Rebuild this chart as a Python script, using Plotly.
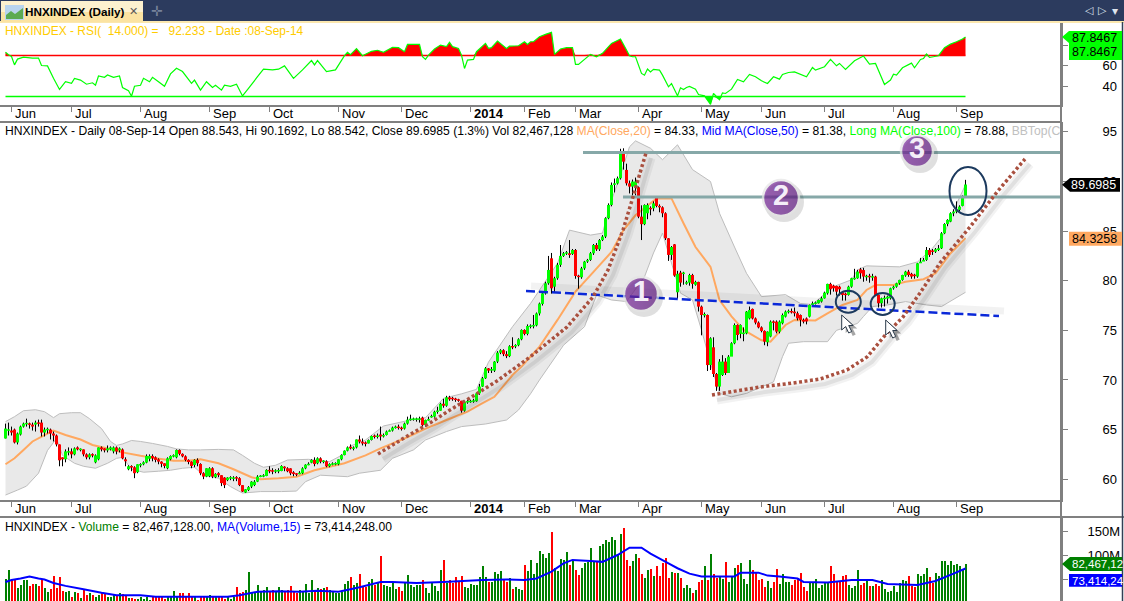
import plotly.graph_objects as go

FONT = "Liberation Sans"
W, H = 1124, 601
AXIS_X = 1061
GRID = "#808080"

tick_idx = [2, 22, 45, 68, 88, 111, 132, 155, 173, 190, 211, 232, 252, 273, 296, 317]
tick_labels = ["Jun", "Jul", "Aug", "Sep", "Oct", "Nov", "Dec", "<b>2014</b>", "Feb", "Mar", "Apr", "May", "Jun", "Jul", "Aug", "Sep"]

opens = [
    64.1,64.9,64.9,65.0,63.7,64.5,65.3,65.6,65.6,65.5,
    65.5,65.7,65.7,64.7,65.0,65.0,64.6,64.4,63.5,62.2,
    62.0,62.7,62.8,62.5,63.2,63.0,63.0,62.5,62.2,62.5,
    61.7,62.0,63.2,63.1,62.9,63.0,62.8,63.2,62.9,63.0,
    62.0,61.0,61.3,61.2,60.7,61.4,61.5,61.67,62.05,62.34,
    62.2,62.0,61.77,61.6,61.1,62.0,62.3,62.2,62.94,62.55,
    62.3,61.94,61.77,61.43,61.94,61.53,60.6,60.26,60.3,61.1,
    60.2,60.6,60.4,60.16,59.9,60.1,60.1,60.16,60.1,59.4,
    58.65,58.9,59.25,59.4,59.75,60.26,60.3,60.32,60.93,60.85,
    60.8,60.85,60.82,61.26,61.1,61.09,60.69,60.59,60.5,60.59,
    61.09,61.46,61.66,61.93,61.6,62.1,61.8,61.8,61.3,61.5,
    61.5,61.5,62.0,62.43,62.87,63.27,63.1,63.2,64.0,63.78,
    63.65,63.6,63.95,64.35,64.3,64.5,64.3,64.45,64.8,64.9,
    65.2,65.3,65.15,65.1,65.6,66.0,66.05,66.05,66.05,66.2,
    65.45,65.96,66.3,66.3,66.8,66.9,67.6,67.4,68.25,68.15,
    68.1,68.05,67.9,66.9,67.8,67.8,67.85,67.85,68.65,69.33,
    70.17,71.17,70.94,70.94,71.85,72.75,73.0,72.6,72.4,73.4,
    73.4,73.5,74.1,75.04,74.64,75.4,75.44,75.5,76.7,77.66,
    78.73,79.74,82.26,79.4,80.25,81.6,82.5,82.77,82.77,82.7,
    83.1,80.48,80.35,81.25,81.93,82.1,82.77,83.6,83.17,84.1,
    84.45,86.3,87.64,89.66,89.8,90.33,92.92,91.17,89.82,89.49,
    89.49,89.42,86.46,85.7,86.8,87.3,87.3,88.41,87.54,87.4,
    86.8,84.28,82.6,83.67,78.84,80.82,80.75,79.75,79.81,80.58,
    79.6,79.88,77.39,76.55,76.55,71.5,73.29,70.6,69.33,70.5,
    71.85,70.7,72.35,73.7,75.54,74.64,74.7,74.7,76.2,77.16,
    76.2,75.78,75.3,74.94,73.8,74.37,75.88,75.88,74.87,75.71,
    76.38,76.89,76.9,76.89,76.72,76.55,76.05,76.2,76.38,77.56,
    77.73,77.73,77.9,78.23,78.73,79.68,79.51,79.47,79.4,78.84,
    78.7,78.57,79.4,80.2,80.25,81.15,81.08,80.4,80.45,80.35,
    80.42,78.57,77.73,78.2,78.2,78.23,79.24,79.4,79.74,80.08,
    80.52,80.92,80.7,80.58,80.42,81.76,81.93,82.1,83.1,83.03,
    82.93,83.1,83.27,84.78,85.72,85.96,86.8,86.97,87.14,87.54,88.543,
]
closes = [
    65.1,65.0,64.7,63.7,64.6,65.3,65.6,65.6,65.5,65.3,
    65.7,65.6,64.7,65.0,65.0,64.6,64.4,63.5,61.9,62.0,
    62.8,62.8,62.5,63.1,63.0,63.0,62.5,62.2,62.5,62.4,
    62.4,63.2,63.0,62.9,63.1,63.2,63.2,62.8,63.1,62.1,
    61.8,61.3,61.2,60.6,61.5,61.5,61.7,62.34,62.34,62.1,
    61.94,61.77,61.55,61.33,62.1,62.34,62.4,62.94,62.55,62.3,
    61.94,61.73,61.33,61.94,61.6,60.6,60.26,61.1,61.1,60.26,
    60.53,60.4,59.6,59.4,60.16,60.16,60.1,60.1,59.4,58.75,
    58.98,59.2,59.75,59.75,60.26,60.32,60.35,60.93,60.8,60.8,
    60.85,60.85,61.33,61.1,60.8,60.59,60.52,60.45,60.65,61.09,
    61.46,61.5,61.93,61.53,62.1,61.76,61.8,61.3,61.53,61.55,
    61.6,62.0,62.43,62.87,63.2,63.1,63.15,64.0,63.78,63.6,
    63.6,63.95,64.35,64.3,64.35,64.3,64.45,64.8,64.9,65.2,
    65.25,65.15,65.1,65.6,66.0,66.05,66.05,66.05,66.05,65.45,
    65.96,66.0,66.3,66.8,66.9,67.6,67.4,68.25,68.05,68.1,
    68.0,67.9,66.9,67.8,67.8,67.85,67.9,68.65,69.33,70.17,
    71.17,70.94,71.1,71.85,72.75,73.0,72.6,72.4,73.4,73.3,
    73.5,74.1,75.04,74.64,75.44,75.44,75.5,76.7,77.7,78.73,
    79.74,81.09,79.24,80.25,81.6,82.5,82.77,82.83,82.6,83.1,
    80.48,80.4,81.25,81.93,82.1,82.77,83.6,83.17,84.1,84.45,
    86.3,87.64,89.66,89.82,90.33,92.92,92.0,89.82,89.49,90.0,
    90.0,86.46,85.7,87.64,87.64,87.25,87.8,87.54,87.4,86.8,
    84.28,82.6,83.4,80.52,80.7,79.81,80.75,79.8,80.58,79.68,
    79.88,77.39,76.55,76.6,71.5,74.2,70.6,69.33,71.85,71.85,
    70.7,72.35,73.7,75.54,74.53,75.54,74.7,76.89,77.05,76.2,
    75.78,75.3,74.94,73.86,74.87,75.88,75.78,74.87,75.88,76.55,
    76.89,76.9,76.85,76.72,76.2,76.05,75.88,75.9,77.56,77.73,
    77.75,78.06,78.23,78.8,79.68,79.14,79.24,78.9,79.14,78.57,
    78.55,79.4,80.25,80.25,80.92,80.75,80.42,80.45,80.4,80.42,
    78.57,77.73,78.23,78.23,78.4,79.24,79.4,79.74,80.08,80.58,
    80.92,80.58,80.42,80.5,81.76,81.93,82.1,83.1,82.6,82.93,
    83.17,83.27,84.78,85.72,86.13,86.8,86.97,87.14,87.47,88.55,89.6985,
]
highs = [
    65.6,65.7,65.3,65.1,64.7,65.4,65.7,66.1,65.7,65.7,
    65.9,66.0,66.0,65.2,65.2,65.1,64.8,64.5,63.5,62.2,
    63.0,63.2,63.1,63.2,63.3,63.1,63.0,62.6,62.6,62.6,
    62.5,63.2,63.3,63.1,63.4,63.3,63.3,63.3,63.2,63.1,
    62.2,61.4,61.4,61.3,61.5,61.6,61.8,62.5,62.5,62.5,
    62.3,62.1,61.8,61.6,62.2,62.4,62.5,63.0,63.0,62.6,
    62.4,62.0,61.8,62.0,62.1,61.6,60.7,61.1,61.2,61.2,
    60.6,60.7,60.4,60.2,60.2,60.3,60.3,60.3,60.2,59.4,
    59.0,59.3,59.8,59.9,60.4,60.4,60.5,61.0,61.3,61.1,
    61.0,61.1,61.4,61.3,61.2,61.1,60.8,60.6,60.8,61.2,
    61.5,61.7,62.0,62.2,62.2,62.2,61.9,61.9,61.6,61.7,
    61.7,62.0,62.5,62.9,63.3,63.5,63.3,64.0,64.4,64.1,
    63.8,64.0,64.4,64.5,64.6,65.3,64.6,64.9,65.0,65.3,
    65.4,65.5,65.3,65.7,66.3,66.5,66.2,66.2,66.3,66.3,
    66.0,66.3,66.5,66.9,67.3,67.7,68.1,68.4,68.4,68.3,
    68.2,68.1,67.9,67.9,68.0,68.0,68.1,68.7,69.6,70.3,
    71.3,71.2,71.3,71.9,72.9,73.1,73.1,72.9,73.5,74.3,
    73.6,74.2,75.1,75.1,75.6,75.6,76.55,76.8,77.8,78.9,
    79.9,82.5,82.8,80.4,81.8,83.6,82.9,83.0,84.1,83.2,
    83.2,80.6,81.4,82.0,82.2,82.9,83.7,83.8,84.2,84.6,
    86.4,87.8,89.9,90.3,90.5,93.3,93.35,91.8,90.1,90.2,
    90.4,89.5,87.6,87.7,87.8,87.5,88.0,88.5,87.7,87.5,
    86.9,84.3,83.5,83.7,81.0,81.0,80.9,80.0,80.7,80.7,
    80.0,79.9,77.5,76.8,76.6,74.3,74.3,70.7,72.1,72.5,
    72.2,72.5,73.8,75.7,75.6,75.6,75.3,76.95,77.4,77.2,
    76.3,75.9,75.4,75.0,74.9,76.0,76.0,76.0,76.0,76.7,
    77.0,77.1,77.2,77.3,76.9,76.6,76.2,76.3,77.6,77.9,
    77.9,78.1,78.4,78.9,79.7,79.8,79.6,79.5,79.5,78.9,
    78.8,79.5,80.3,81.2,81.1,81.3,81.3,80.6,80.7,80.7,
    80.5,78.6,78.3,78.5,78.5,79.3,79.5,79.8,80.1,80.6,
    81.0,81.1,80.8,80.7,81.8,82.3,82.3,83.4,83.3,83.2,
    83.3,83.6,84.9,85.8,86.2,86.9,87.2,88.0,87.6,88.6,90.1692,
]
lows = [
    64.1,64.4,64.4,63.6,63.5,64.4,65.2,65.3,65.1,64.9,
    64.8,65.3,64.3,64.3,64.6,64.0,63.8,63.3,61.3,61.3,
    61.7,62.4,62.1,62.4,62.9,62.8,62.3,62.0,62.0,62.2,
    61.6,61.9,62.8,62.7,62.7,62.9,62.6,62.5,62.7,62.0,
    61.3,60.9,60.8,60.1,60.6,61.2,61.4,61.6,61.8,61.8,
    61.7,61.5,61.2,61.1,61.0,61.9,62.2,62.1,62.4,62.2,
    61.8,61.5,61.1,61.2,61.3,60.4,60.0,60.2,60.2,60.1,
    60.1,60.2,59.3,59.1,59.8,59.9,59.8,59.8,59.3,58.7,
    58.6,58.8,59.1,59.3,59.7,60.2,60.2,60.3,60.6,60.5,
    60.6,60.6,60.8,60.8,60.7,60.4,60.3,60.3,60.5,60.5,
    61.0,61.4,61.6,61.3,61.5,61.6,61.6,61.2,61.2,61.4,
    61.4,61.4,61.9,62.4,62.8,63.0,62.9,63.1,63.6,63.4,
    63.3,63.6,63.9,64.1,64.1,63.9,64.2,64.4,64.8,64.8,
    65.1,65.0,64.9,65.0,65.5,65.9,65.9,65.8,65.7,65.3,
    65.3,65.9,66.2,66.2,66.6,66.9,67.2,67.3,67.9,67.9,
    67.8,67.8,66.7,66.8,67.6,67.7,67.7,67.8,68.5,69.3,
    70.1,70.7,70.7,70.8,71.7,72.6,72.4,72.2,72.3,73.1,
    73.2,73.4,74.0,74.5,74.5,75.2,75.2,75.4,76.5,77.5,
    78.6,79.6,78.7,78.8,80.1,81.4,82.4,82.6,82.3,82.6,
    80.2,79.2,80.2,81.1,81.8,82.0,82.6,83.0,83.0,84.0,
    84.3,86.2,87.5,88.9,89.7,90.2,91.2,89.6,88.8,88.6,
    88.6,86.3,84.1,85.6,86.2,86.6,87.0,87.4,86.9,86.4,
    84.1,82.0,82.1,80.4,78.2,79.4,79.6,79.6,79.5,79.2,
    79.5,76.9,74.5,76.3,70.9,71.0,70.3,68.9,68.9,70.4,
    70.5,70.9,73.1,73.6,74.0,74.2,73.9,74.6,76.1,76.1,
    75.6,75.2,74.8,73.5,73.4,74.3,75.0,74.7,74.7,75.6,
    76.3,76.7,76.7,76.4,76.0,75.4,75.7,75.6,76.3,77.4,
    77.6,77.7,77.8,78.2,78.6,78.6,78.9,78.5,78.5,78.0,
    78.0,78.5,79.3,80.1,80.2,80.2,79.9,80.0,79.8,80.0,
    78.5,77.3,77.3,77.4,77.7,78.1,79.1,79.3,79.6,80.0,
    80.4,80.4,80.2,80.2,80.3,81.8,82.0,82.0,82.4,82.6,
    82.8,83.0,83.2,84.7,85.5,85.9,86.5,86.8,87.0,87.5,88.542,
]
volume_m = [
    53,70,53,50,33,40,50,51,38,42,
    42,38,53,33,26,31,58,33,57,27,
    26,27,16,26,24,14,29,19,24,19,
    16,19,25,23,16,16,21,19,24,21,
    19,14,14,12,12,16,12,16,10,16,
    16,16,16,12,16,16,27,16,23,23,
    16,23,16,16,10,16,16,16,19,17,
    16,16,16,12,16,12,16,36,24,26,
    29,67,26,24,40,26,29,36,28,29,
    26,36,29,26,29,38,26,24,29,28,
    42,24,50,28,33,31,33,35,29,26,
    24,24,26,41,48,57,40,43,63,36,
    36,46,53,40,46,99,40,38,35,46,
    31,36,28,44,60,40,35,40,40,50,
    34,24,46,38,28,70,91,43,50,43,
    57,46,58,36,33,42,40,40,57,78,
    57,46,46,67,63,68,52,46,55,31,
    36,31,29,80,69,91,63,84,110,103,
    94,106,148,74,69,92,91,108,80,89,
    70,60,74,85,87,116,87,87,119,123,
    131,128,138,131,104,144,156,91,78,89,
    104,94,63,55,70,72,59,78,59,84,
    94,55,67,65,65,55,33,40,33,23,
    30,45,50,78,51,104,63,55,58,53,
    86,46,57,74,80,84,53,42,91,70,
    67,50,52,35,48,33,46,72,42,62,
    46,46,40,50,53,65,35,27,43,46,
    53,33,40,44,46,78,63,48,46,58,
    60,40,33,38,70,40,43,52,38,38,
    41,38,51,31,26,27,38,26,43,50,
    48,58,38,36,62,58,63,75,57,44,
    65,59,89,89,80,89,80,83,78,71,82.467,
]
rsi_idx = [
    0,1,2,3,4,6,9,11,12,14,16,18,20,22,23,25,27,29,30,31,33,34,36,38,39,41,42,43,45,46,
    48,49,51,53,55,57,59,62,63,65,67,69,70,72,73,75,77,79,81,84,86,89,91,93,96,99,102,103,104,107,
    110,113,114,115,117,119,122,124,126,129,131,133,134,138,139,140,141,143,145,147,148,149,151,152,153,154,156,157,160,161,
    162,164,167,168,171,173,174,175,176,178,180,182,183,185,187,189,190,191,195,197,199,202,205,207,208,209,210,212,213,214,
    215,216,218,219,221,222,224,225,226,227,228,230,231,233,235,236,238,239,240,242,244,246,248,250,252,254,256,258,259,261,
    263,267,269,270,273,275,277,278,280,283,286,288,290,293,295,296,297,299,302,303,305,306,307,308,311,313,315,317,319,320,
]
rsi = [
    73,70.7,69,60.8,66.4,68.4,67.4,67.4,60.2,59.8,47.7,36.9,44.4,42.8,47.7,46,42,43.4,41,50,48.7,51,48.7,50,38.8,35.6,30.3,40,41,47.7,
    44.4,48.7,44.4,40,52,57.5,54.3,42.8,46,36.2,44.4,38.8,41,36.2,41,40,42,30.6,37.9,49.3,56.6,55.9,56.6,59.8,47.7,55.9,65,60.8,65,54.3,
    55.9,69.7,73,70.7,76.6,69.7,74,75,73,77.9,77.5,73.6,80.7,80.7,68.7,66.1,70.3,76.2,80,78.5,82.7,78.5,76.8,70.3,57.3,65.5,66.1,73.6,81.7,76.8,
    77.5,84,76.8,79,79.4,83.3,80.7,83.3,83.3,88.2,90.5,92.4,71,76.2,77.5,77.5,61.2,61.2,71,68.7,72,81.7,85.9,75.2,69.7,68.7,68.7,52.5,50.8,56.7,
    54,56.4,55.7,50.8,39.5,42.7,30.7,38.5,36.9,38.8,39.8,37.2,32,30.7,22.5,33,26.9,33.6,33,37.2,46.6,44.3,51.5,49.2,45.3,42.7,49.2,46.9,51.5,53.4,
    54,49.2,58.3,55.7,59,66.1,59.9,62.2,56.4,64.8,69.4,61.6,62.2,41.7,46,51.8,50.8,58,62.5,58,66.1,67,71.3,68,69.7,77.5,81,83.3,85.9,87.85,
]
bb_top_idx = [
    0,3,6,10,13,16,18,22,25,28,32,35,37,39,42,45,49,54,57,61,65,71,76,79,83,86,90,94,101,108,
    112,115,120,126,134,140,146,152,157,161,169,175,184,188,195,199,202,205,208,210,215,219,224,229,235,238,243,247,252,260,
    265,269,272,276,282,284,287,298,304,309,313,316,320,
]
bb_top = [
    65.8,66.3,66.9,67.0,66.8,66.2,66.6,66.7,66.7,66.1,65.1,63.8,63.4,63.55,63.9,63.8,63.6,63.3,63.05,62.95,62.95,63.0,62.95,62.4,61.6,61.2,61.4,61.93,62.0,61.76,
    62.4,63.34,63.95,65.36,65.9,66.2,68.15,68.6,69.05,71.8,75.37,77.7,81.76,85.1,84.6,84.8,88.1,90.66,93.5,94.1,93.35,92.2,93.7,91.2,90.0,86.8,83.4,80.75,78.4,78.6,
    77.7,77.6,78.4,79.4,80.1,81.1,81.5,81.4,81.9,83.27,84.78,87.1,89.66,
]
bb_bot_idx = [
    0,4,7,11,14,17,19,23,26,30,34,37,39,42,46,51,55,59,63,66,71,75,79,85,92,97,100,105,114,118,
    125,129,136,140,147,152,160,167,171,175,178,186,193,197,202,207,213,216,219,225,229,232,235,238,242,247,252,256,259,261,
    266,274,277,284,286,289,294,300,307,312,320,
]
bb_bot = [
    58.4,58.9,59.3,60.6,62.9,64.1,62.4,61.6,61.3,61.1,61.6,62.1,62.2,61.0,60.7,60.8,60.9,61.1,61.2,60.4,60.1,59.25,58.6,58.75,58.75,58.8,59.75,60.4,60.25,60.6,
    60.9,62.1,62.95,63.95,64.8,65.3,65.56,65.96,66.97,68.6,70.0,73.5,75.37,78.57,78.06,77.9,80.4,82.8,84.8,78.75,78.06,75.04,71.7,68.65,68.3,68.65,69.3,69.8,72.35,73.7,
    73.86,73.86,75.0,75.7,76.4,77.4,77.56,77.9,77.56,77.4,78.84,
]
ma20_idx = [
    0,3,6,9,13,16,20,25,29,34,39,45,50,56,61,65,71,76,82,85,91,97,103,113,120,125,133,140,147,154,
    158,163,169,172,178,184,190,196,202,206,210,217,222,226,230,235,238,242,246,252,255,260,263,270,274,279,284,287,290,296,
    300,306,310,315,320,
]
ma20 = [
    61.5,62.1,62.95,63.8,64.45,64.9,64.45,64.0,63.45,63.1,62.7,62.35,62.1,61.85,61.85,62.0,61.6,61.0,60.2,60.0,60.1,60.25,60.9,61.6,62.4,63.1,64.1,65.1,65.96,66.8,
    67.5,68.3,70.5,71.34,73.36,76.05,78.9,80.9,82.9,85.1,86.6,88.3,88.3,85.8,83.4,81.4,78.06,76.4,75.04,74.0,73.86,75.54,76.05,76.0,76.7,77.56,78.06,79.07,79.57,79.57,
    79.9,80.15,80.75,82.77,84.3,
]
vol_ma_idx = [
    0,2,5,8,11,13,16,20,26,32,37,45,50,56,65,74,78,84,91,98,104,111,115,118,125,129,137,146,159,167,
    173,177,182,186,189,195,199,204,208,212,215,221,224,228,232,243,245,251,254,258,264,266,274,282,289,294,304,310,316,320,
]
vol_ma = [
    46,50,53,57,53,51,44,38,31,24,19,19,16,16,16,16,19,26,27,26,28,26,31,35,46,46,44,46,50,51,
    50,53,67,84,91,89,87,101,116,116,104,84,74,63,57,57,65,65,59,57,53,46,45,50,50,42,40,48,63,73.4,
]
assert len(opens) == len(closes) == len(highs) == len(lows) == len(volume_m), (len(opens), len(closes), len(highs), len(lows), len(volume_m))
assert len(rsi_idx) == len(rsi) and len(bb_top_idx) == len(bb_top) and len(bb_bot_idx) == len(bb_bot)
assert len(ma20_idx) == len(ma20) and len(vol_ma_idx) == len(vol_ma)

n_bars = len(closes)
index = list(range(n_bars))


def segments(keys, starts, ends, min_gap=0.0):
    xs, ys = [], []
    for i, a, b in zip(keys, starts, ends):
        if abs(a - b) < min_gap:
            mid = (a + b) / 2
            a, b = mid - min_gap / 2, mid + min_gap / 2
        xs += [i, i, None]
        ys += [a, b, None]
    return xs, ys


def line_trace(x, y, color, width, axes=("x", "y"), dash=None, **kw):
    return go.Scatter(
        x=x, y=y, mode="lines", xaxis=axes[0], yaxis=axes[1],
        line=dict(color=color, width=width, dash=dash, simplify=False),
        hoverinfo="skip", showlegend=False, **kw,
    )


fig = go.Figure()

# rsi panel
rsi_up = [max(v, 70) for v in rsi]
rsi_dn = [min(v, 30) for v in rsi]
ends = [0, n_bars - 1]
fig.add_trace(line_trace(rsi_idx, [70] * len(rsi), "rgba(0,0,0,0)", 0, ("x2", "y2")))
fig.add_trace(line_trace(rsi_idx, rsi_up, "rgba(0,0,0,0)", 0, ("x2", "y2"), fill="tonexty", fillcolor="#ff0000"))
fig.add_trace(line_trace(rsi_idx, [30] * len(rsi), "rgba(0,0,0,0)", 0, ("x2", "y2")))
fig.add_trace(line_trace(rsi_idx, rsi_dn, "rgba(0,0,0,0)", 0, ("x2", "y2"), fill="tonexty", fillcolor="#00ff00"))
fig.add_trace(line_trace(ends, [70, 70], "#ff0000", 1.5, ("x2", "y2")))
fig.add_trace(line_trace(ends, [30, 30], "#00ff00", 1.5, ("x2", "y2")))
fig.add_trace(line_trace(rsi_idx, rsi, "#00ff00", 1.2, ("x2", "y2")))

# price panel
fig.add_trace(go.Scatter(
    x=bb_top_idx + bb_bot_idx[::-1], y=bb_top + bb_bot[::-1], mode="none",
    fill="toself", fillcolor="#e9e9e9", hoverinfo="skip", showlegend=False,
))
fig.add_trace(line_trace(bb_top_idx, bb_top, "#bdbdbd", 1))
fig.add_trace(line_trace(bb_bot_idx, bb_bot, "#bdbdbd", 1))
fig.add_trace(line_trace(ma20_idx, ma20, "#ffa860", 2))

wick_x, wick_y = segments(index, lows, highs)
fig.add_trace(line_trace(wick_x, wick_y, "#000000", 1))
up = [i for i in index if closes[i] >= opens[i]]
dn = [i for i in index if closes[i] < opens[i]]
up_x, up_y = segments(up, [opens[i] for i in up], [closes[i] for i in up], 0.15)
dn_x, dn_y = segments(dn, [opens[i] for i in dn], [closes[i] for i in dn], 0.15)
fig.add_trace(line_trace(up_x, up_y, "#00ff00", 3))
fig.add_trace(line_trace(dn_x, dn_y, "#ff0000", 3))

# volume panel
fig.add_trace(go.Bar(
    x=index, y=volume_m, width=0.67, xaxis="x3", yaxis="y3",
    marker=dict(color=["#008000" if closes[i] >= opens[i] else "#ff0000" for i in index], line=dict(width=0)),
    hoverinfo="skip", showlegend=False,
))
fig.add_trace(line_trace(vol_ma_idx, vol_ma, "#0000ff", 2, ("x3", "y3")))

# hand drawn markup, in picture pixels on an overlay axis
OV = ("x4", "y4")
trend_a = [(378, 454), (404, 438), (430, 423), (450, 410), (470, 398), (497, 381), (530, 357), (567, 327), (593, 297), (608, 270), (623, 230), (633, 197), (640, 173), (646, 153)]
trend_b = [(712, 395), (760, 387), (793, 383), (820, 379), (847, 370), (867, 357), (887, 333), (903, 317), (920, 293), (940, 263), (970, 227), (997, 192), (1025, 159)]
neck = [(526, 291), (999, 316)]
for path in (trend_a, trend_b):
    px = [p[0] + 5 for p in path]
    py = [p[1] + 5 for p in path]
    fig.add_trace(line_trace(px, py, "rgba(0,0,0,0.05)", 9, OV))
    fig.add_trace(line_trace(px, py, "rgba(0,0,0,0.07)", 4, OV))
fig.add_trace(line_trace([p[0] + 5 for p in neck], [p[1] - 5 for p in neck], "rgba(0,0,0,0.05)", 7, OV))
for x0, y0 in [(583, 152.5), (623, 197)]:
    fig.add_trace(line_trace([x0, AXIS_X], [y0, y0], "#86a8a8", 3, OV))
fig.add_trace(line_trace([p[0] for p in neck], [p[1] for p in neck], "#0a28d8", 2.5, OV, dash="9px,4px"))
for path in (trend_a, trend_b):
    fig.add_trace(line_trace([p[0] for p in path], [p[1] for p in path], "#a9503f", 3.5, OV, dash="3px,2.5px"))

badge_x = [641, 781, 917]
badge_y = [294, 198, 151]
badge_size = [34, 36, 32]
fig.add_trace(go.Scatter(
    x=[v + 3 for v in badge_x], y=[v + 4 for v in badge_y], mode="markers", xaxis="x4", yaxis="y4",
    marker=dict(size=[v + 4 for v in badge_size], color="rgba(0,0,0,0.18)", line=dict(width=0)),
    hoverinfo="skip", showlegend=False,
))
fig.add_trace(go.Scatter(
    x=badge_x, y=badge_y, mode="markers+text", xaxis="x4", yaxis="y4",
    text=["<b>1</b>", "<b>2</b>", "<b>3</b>"], textposition="middle center",
    textfont=dict(family=FONT, size=29, color="#f4eef8"),
    marker=dict(
        size=badge_size, color="#7a2a9c",
        gradient=dict(type="horizontal", color="#5f1a80"),
        line=dict(color="#e4e4e4", width=2.5),
    ),
    hoverinfo="skip", showlegend=False,
))


def ov_rect(x0, y0, x1, y1, fill):
    return dict(type="rect", xref="x4", yref="y4", x0=x0, y0=y0, x1=x1, y1=y1, fillcolor=fill, line=dict(width=0), layer="above")


def ov_line(x0, y0, x1, y1, color, width=1):
    return dict(type="line", xref="x4", yref="y4", x0=x0, y0=y0, x1=x1, y1=y1, line=dict(color=color, width=width), layer="above")


def ov_path(points, fill, line_color=None, width=0):
    d = "M " + " L ".join(f"{x} {y}" for x, y in points) + " Z"
    return dict(type="path", xref="x4", yref="y4", path=d, fillcolor=fill, line=dict(color=line_color or fill, width=width), layer="above")


def ellipse(cx, cy, rx, ry):
    return dict(type="circle", xref="x4", yref="y4", x0=cx - rx, x1=cx + rx, y0=cy - ry, y1=cy + ry,
                line=dict(color="#1c3a5e", width=2), layer="above")


def cursor(x, y):
    arrow = [(0, 0), (0, 15), (4, 11.5), (7, 18), (10, 16.5), (7, 10.5), (11.5, 10.5)]
    shadow = ov_path([(x + a + 4, y + b + 3) for a, b in arrow], "rgba(0,0,0,0.35)")
    body = ov_path([(x + a, y + b) for a, b in arrow], "#ffffff", "#2b3a4a", 1)
    return [shadow, body]


shapes = [
    ov_rect(0, 0, W, 21, "#2c3b5e"),
    ov_rect(0, 21, W, 23, "#fbe7ae"),
    ov_rect(1, 1, 143, 12, "#fdf1cf"),
    ov_rect(1, 12, 143, 22, "#fbe3a2"),
    ov_rect(5, 5, 24, 20, "#b9d4ee"),
    ov_path([(6, 19), (6, 15), (11, 11), (15, 14), (23, 8), (23, 19)], "#5cab52"),
    ov_line(AXIS_X, 23, AXIS_X, H, GRID, 2),
    ov_line(0, 122, AXIS_X, 122, GRID, 2),
    ov_line(0, 517, W, 517, GRID, 2),
    ov_line(1122.5, 22, 1122.5, H, "#333f55", 1.5),
    ellipse(968, 191, 18.5, 24),
    ellipse(848.3, 301.7, 12.5, 11),
    ellipse(882.7, 304, 12, 11),
    *cursor(841.7, 315),
    *cursor(885.7, 320),
    ov_path([(1062, 37), (1069, 31), (1122, 31), (1122, 60), (1069, 60), (1069, 43)], "#00ff00"),
    ov_path([(1062, 184.7), (1070, 178), (1120, 178), (1120, 191.7), (1070, 191.7)], "#000000"),
    ov_rect(1069, 231.7, 1122, 245.7, "#ffa860"),
    ov_path([(1062, 564), (1070, 557), (1122, 557), (1122, 571), (1070, 571)], "#008000"),
    ov_rect(1069, 574, 1122, 586.7, "#0000ff"),
]


def text(x, y, s, color="#000000", size=12.13, anchor="left", **kw):
    return dict(
        xref="x4", yref="y4", x=x, y=y, text=s, showarrow=False, xanchor=anchor, yanchor="middle",
        font=dict(family=FONT, size=size, color=color), align=anchor, borderpad=0, **kw,
    )


def span(s, color):
    return f'<span style="color:{color}">{s}</span>'


header = (
    "HNXINDEX - Daily 08-Sep-14 Open 88.543, Hi 90.1692, Lo 88.542, Close 89.6985 (1.3%) Vol 82,467,128 "
    + span("MA(Close,20)", "#ffa860") + " = 84.33, "
    + span("Mid MA(Close,50)", "#0000ff") + " = 81.38, "
    + span("Long MA(Close,100)", "#00ff00") + " = 78.88, "
    + span("BBTop(C", "#c0c0c0")
)
vol_header = (
    "HNXINDEX - " + span("Volume", "#008000") + " = 82,467,128.00, "
    + span("MA(Volume,15)", "#0000ff") + " = 73,414,248.00"
)
annotations = [
    text(24, 11, "<b>HNXINDEX (Daily)</b>", size=11.7),
    text(133, 11, "✕", "#5a5a5a", 11, "center"),
    text(157, 11, "✛", "#77829a", 14, "center"),
    text(1089, 10, "◁", "#dfe4ee", 11, "center"),
    text(1102, 10, "▷", "#dfe4ee", 11, "center"),
    text(1115, 11, "▾", "#dfe4ee", 12, "center"),
    text(4, 31, "HNXINDEX - RSI(\u00a0\u00a014.000) =\u00a0\u00a0\u00a092.233 - Date :08-Sep-14", "#ffcc00", 11.95),
    text(4, 131, header),
    text(4, 527, vol_header),
    text(1118, 38, "87.8467", anchor="right", size=12.5),
    text(1118, 52, "87.8467", anchor="right", size=12.5),
    text(1117, 185, "89.6985", "#ffffff", 12.5, "right"),
    text(1118, 239, "84.3258", anchor="right", size=12.5),
    text(1071, 564, "82,467,12", "#ffffff", 11.5),
    text(1071, 581, "73,414,24", "#ffffff", 11.5),
]
for y_label in (113, 508):
    for i, label in zip(tick_idx, tick_labels):
        annotations.append(dict(
            xref="x", yref="y4", x=i, y=y_label, text=label, showarrow=False, xanchor="left", yanchor="middle",
            xshift=1, font=dict(family=FONT, size=13, color="#000000"),
        ))

x_range = [-5.5 / 3, (AXIS_X - 5.5) / 3]
x_dom = [0, AXIS_X / W]


def dom(top, bottom):
    return [1 - bottom / H, 1 - top / H]


def x_axis(anchor, **kw):
    base = dict(
        domain=x_dom, range=x_range, anchor=anchor, showgrid=False, zeroline=False, fixedrange=True,
        showline=True, linecolor=GRID, linewidth=2, showticklabels=False,
    )
    base.update(kw)
    return base


def y_axis(domain, y_range, vals, labels, standoff, anchor):
    return dict(
        domain=domain, range=y_range, side="right", anchor=anchor, showgrid=False, zeroline=False, fixedrange=True,
        showline=True, linecolor=GRID, linewidth=2, ticks="outside", ticklen=5, tickcolor=GRID, tickwidth=1,
        tickvals=vals, ticktext=labels, ticklabelstandoff=standoff,
        tickfont=dict(family=FONT, size=13, color="#000000"),
    )


tick_style = dict(tickmode="array", tickvals=tick_idx, ticks="outside", ticklen=5, tickcolor=GRID, tickwidth=1)

fig.update_layout(
    width=W, height=H, margin=dict(l=0, r=0, t=0, b=0), autosize=False,
    paper_bgcolor="#ffffff", plot_bgcolor="rgba(0,0,0,0)", barmode="overlay", bargap=0,
    showlegend=False, hovermode=False,
    xaxis=x_axis("y", **tick_style),
    xaxis2=x_axis("y2", **tick_style),
    xaxis3=x_axis("y3"),
    xaxis4=dict(domain=[0, 1], range=[0, W], anchor="y4", visible=False, fixedrange=True),
    yaxis=y_axis(dom(122, 500), [57.9, 96.0], [60, 65, 70, 75, 80, 85, 90, 95], ["60", "65", "70", "75", "80", "85", "90", "95"], 32, "x"),
    yaxis2=y_axis(dom(23, 105), [21.8, 101.5], [40, 60, 80], ["40", "60", "80"], 32, "x2"),
    yaxis3=y_axis(dom(517, H), [7.1, 178.6], [50, 100, 150], ["50M", "100M", "150M"], 17, "x3"),
    yaxis4=dict(domain=[0, 1], range=[H, 0], anchor="x4", visible=False, fixedrange=True),
    shapes=shapes,
    annotations=annotations,
)

fig.write_html("out.html", post_script="document.body.style.margin='0';", config=dict(displayModeBar=False))
